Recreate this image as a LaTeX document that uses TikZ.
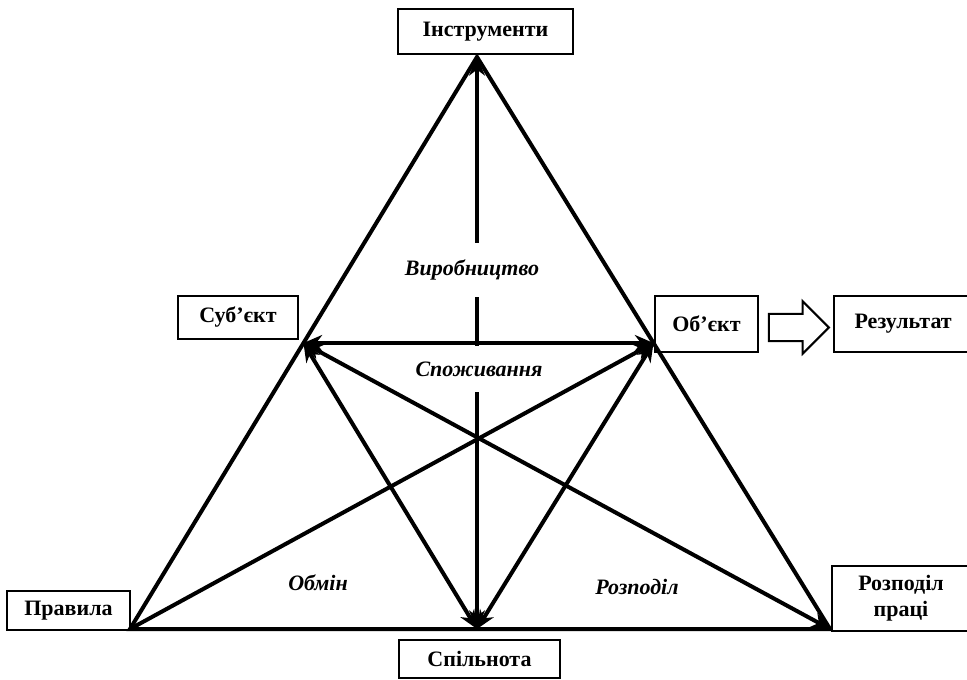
\documentclass[tikz,border=0pt]{standalone}
\usepackage{fontspec}
\setmainfont{Liberation Serif}
\usetikzlibrary{arrows.meta, positioning, calc, shapes.arrows}

\begin{document}
\begin{tikzpicture}[x=0.75pt,y=-0.75pt,>={Stealth[length=14pt,width=12pt]},
      every node/.style={font=\fontsize{16.5}{19.5}\selectfont\bfseries},
      box/.style={draw,line width=1.5pt,inner sep=0pt},
      lab/.style={font=\fontsize{16.5}{19.5}\selectfont\bfseries\itshape},
      link/.style={line width=3pt}]
      \useasboundingbox (0,0) rectangle (967,680);
      % corners of the triangle
      \coordinate (top) at (477,57);
      \coordinate (bl) at (130,629);
      \coordinate (bm) at (477,629);
      \coordinate (br) at (830,629);
      \coordinate (sp) at ($(top)!0.5!(bl)$);
      \coordinate (op) at ($(top)!0.5!(br)$);
      % boxes
      \node[box,minimum width=131pt,minimum height=34pt] (tool) at (485.5,31.5) {Інструменти};
      \node[box,minimum width=90pt,minimum height=32pt] (subj) at (238,317.5) {Суб’єкт};
      \node[box,minimum width=77pt,minimum height=42pt] (obj) at (706.5,324) {Об’єкт};
      \node[box,minimum width=104pt,minimum height=42pt] (res) [right=55.5pt of obj] {Результат};
      \node[box,minimum width=92pt,minimum height=29pt] (rules) at (68.5,610.5) {Правила};
      \node[box,minimum width=121pt,minimum height=28.5pt] (comm) at (479.5,659) {Спільнота};
      \node[box,minimum width=104pt,minimum height=49pt,align=center] (div) at (901,598.5) {Розподіл\\праці};
      \node[draw,single arrow,line width=1.5pt,minimum height=45pt,minimum width=38pt,
        single arrow head extend=9.5pt,inner xsep=0pt,inner ysep=9.5pt] (flow) at (792,327.5) {};
      % triangle
      \draw[link] (top) -- (bl) -- (br) -- cycle;
      \draw[link,<->] (sp) -- (op);
      \draw[link,<->] (top) -- (bm);
      \draw[link,->] (bl) -- (op);
      \draw[link,<->] (sp) -- (br);
      \draw[link,<->] (sp) -- (bm);
      \draw[link,<->] (op) -- (bm);
      % labels
      \node[lab,fill=white,inner xsep=4pt,inner ysep=12.5pt] (prod) at (472,270) {Виробництво};
      \node[lab,fill=white,inner xsep=12pt,inner ysep=12pt] (cons) at (479,369) {Споживання};
      \node[lab] (exch) at (318,583) {Обмін};
      \node[lab] (distr) at (637,587) {Розподіл};
    \end{tikzpicture}
\end{document}
